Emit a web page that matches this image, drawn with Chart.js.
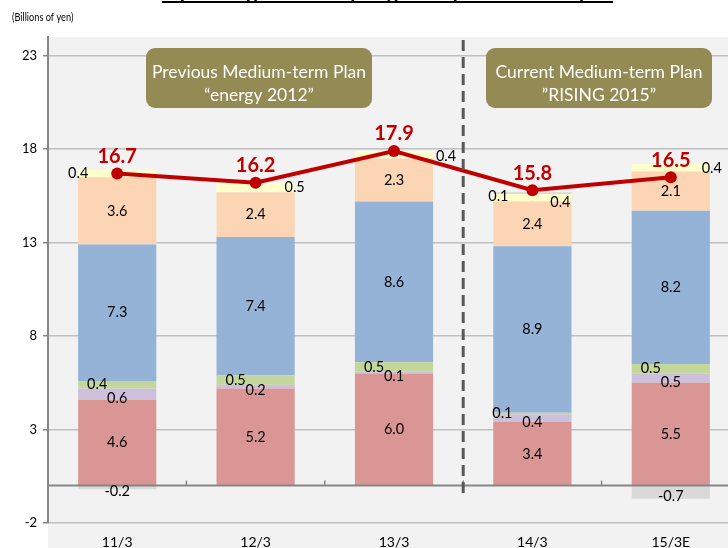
<!DOCTYPE html>
<html>
<head>
<meta charset="utf-8">
<script src="https://cdn.jsdelivr.net/npm/chart.js@4"></script>
<style>
html,body{margin:0;padding:0;background:#fff;overflow:hidden;width:728px;height:548px;}
#wrap{position:absolute;left:0;top:0;width:760px;height:548px;}
</style>
</head>
<body>
<div id="wrap"><canvas id="c" width="760" height="548"></canvas></div>
<script>
// ---- data ----
const categories = ['11/3', '12/3', '13/3', '14/3', '15/3E'];
const segRed      = [4.6, 5.2, 6.0, 3.4, 5.5];
const segLavender = [0.6, 0.2, 0.1, 0.4, 0.5];
const segGreen    = [0.4, 0.5, 0.5, 0.1, 0.5];
const segBlue     = [7.3, 7.4, 8.6, 8.9, 8.2];
const segPeach    = [3.6, 2.4, 2.3, 2.4, 2.1];
const segYellow   = [0.4, 0.5, 0.4, 0.4, 0.4];
const segAdjust   = [-0.2, 0, 0, 0.1, -0.7];
const totals      = [16.7, 16.2, 17.9, 15.8, 16.5];
const yTickValues = [-2, 3, 8, 13, 18, 23];
const titleText = 'Operating Income by Segment (Consolidated)';
const unitText = '(Billions of yen)';
const plan1 = ['Previous Medium-term Plan', '\u201Cenergy 2012\u201D'];
const plan2 = ['Current Medium-term Plan', '\u201DRISING 2015\u201D'];

const FONT = 'Lato, "Open Sans", sans-serif';

// label placement (style only)
const yellowDx = [-39, 39, 52, 28, 41];
const yellowDy = [0, 0, 2, 5, 0];

const decor = {
  id: 'decor',
  beforeDraw(chart) {
    const ctx = chart.ctx, a = chart.chartArea;
    ctx.save();
    ctx.fillStyle = '#f2f2f2';
    ctx.fillRect(a.left, a.top, chart.width - a.left, chart.height - a.top);
    ctx.restore();
  },
  afterDatasetsDraw(chart) {
    const ctx = chart.ctx, a = chart.chartArea;
    const xs = chart.scales.x, ys = chart.scales.y;
    ctx.save();
    // zero axis line
    const y0 = ys.getPixelForValue(0);
    ctx.strokeStyle = '#868686';
    ctx.lineWidth = 2;
    ctx.beginPath(); ctx.moveTo(a.left, y0); ctx.lineTo(a.right, y0); ctx.stroke();
    // category tick marks on zero line
    ctx.lineWidth = 1.5;
    for (let i = 1; i < categories.length; i++) {
      const x = (xs.getPixelForValue(i - 1) + xs.getPixelForValue(i)) / 2;
      ctx.beginPath(); ctx.moveTo(x, y0); ctx.lineTo(x, y0 - 5); ctx.stroke();
    }
    // dashed separator
    const xd = (xs.getPixelForValue(2) + xs.getPixelForValue(3)) / 2;
    ctx.strokeStyle = '#595959';
    ctx.lineWidth = 3;
    ctx.setLineDash([11, 6]);
    ctx.beginPath(); ctx.moveTo(xd, a.top + 3); ctx.lineTo(xd, y0 + 13); ctx.stroke();
    ctx.setLineDash([]);

    // segment labels
    ctx.fillStyle = '#000';
    ctx.font = '14.5px ' + FONT;
    ctx.textAlign = 'center';
    ctx.textBaseline = 'middle';
    const fmt = v => v.toFixed(1);
    chart.data.datasets.forEach((ds, di) => {
      if (ds.type === 'line') return;
      const meta = chart.getDatasetMeta(di);
      meta.data.forEach((bar, i) => {
        const v = ds.data[i];
        if (!v) return;
        const cx = bar.x, cy = (bar.y + bar.base) / 2;
        const key = ds.key;
        let x = cx, y = cy;
        if (key === 'green') { x = cx - 20; y = cy; if (i === 3) x = cx - 30; }
        else if (key === 'lavender') { y = cy + 4; }
        else if (key === 'yellow') { x = cx + yellowDx[i]; y = cy + yellowDy[i]; }
        else if (key === 'adjust') {
          if (v < 0) { y = cy + 4; }
          else { x = cx - 34; y = cy + 3; }
        }
        ctx.fillText(fmt(v), x, y);
      });
    });
    ctx.restore();
  },
  afterDraw(chart) {
    const ctx = chart.ctx;
    ctx.save();
    // totals labels
    const meta = chart.getDatasetMeta(chart.data.datasets.length - 1);
    ctx.fillStyle = '#c00000';
    ctx.font = 'bold 20px ' + FONT;
    ctx.textAlign = 'center';
    ctx.textBaseline = 'middle';
    meta.data.forEach((p, i) => ctx.fillText(totals[i].toFixed(1), p.x, p.y - 17));

    // plan boxes
    const box = (x, y, w, h, lines) => {
      ctx.fillStyle = '#948a54';
      ctx.beginPath();
      ctx.roundRect(x, y, w, h, 9);
      ctx.fill();
      ctx.fillStyle = '#ffffff';
      ctx.font = '17.5px ' + FONT;
      ctx.textAlign = 'center';
      ctx.textBaseline = 'middle';
      ctx.fillText(lines[0], x + w / 2, y + 24);
      ctx.fillText(lines[1], x + w / 2, y + 47);
    };
    box(146, 48, 226, 60, plan1);
    box(486, 48, 226, 60, plan2);

    // unit label (condensed)
    ctx.save();
    ctx.translate(12, 17);
    ctx.scale(0.8, 1);
    ctx.fillStyle = '#000';
    ctx.font = '11.5px ' + FONT;
    ctx.textAlign = 'left';
    ctx.textBaseline = 'middle';
    ctx.fillText(unitText, 0, 0);
    ctx.restore();

    // clipped title
    ctx.fillStyle = '#000';
    ctx.font = 'bold 21px ' + FONT;
    ctx.textAlign = 'left';
    ctx.textBaseline = 'alphabetic';
    ctx.fillText(titleText, 163, -1);
    ctx.strokeStyle = '#000';
    ctx.lineWidth = 2;
    ctx.beginPath(); ctx.moveTo(162, 2); ctx.lineTo(613, 2); ctx.stroke();
    ctx.restore();
  }
};

const barDs = (key, data, color) => ({
  key, type: 'bar', data, backgroundColor: color, borderWidth: 0,
  stack: 's', order: 2, barPercentage: 0.565, categoryPercentage: 1
});

new Chart(document.getElementById('c'), {
  data: {
    labels: categories,
    datasets: [
      barDs('red', segRed, '#da9694'),
      barDs('lavender', segLavender, '#ccc0da'),
      barDs('green', segGreen, '#c4d79b'),
      barDs('blue', segBlue, '#95b3d7'),
      barDs('peach', segPeach, '#fcd5b4'),
      barDs('yellow', segYellow, '#ffffcc'),
      barDs('adjust', segAdjust, '#d9d9d9'),
      {
        key: 'total', type: 'line', data: totals, order: 1,
        borderColor: '#c00000', backgroundColor: '#c00000', borderWidth: 4,
        pointRadius: 6, pointHoverRadius: 6, pointBackgroundColor: '#c00000',
        pointBorderWidth: 0, tension: 0
      }
    ]
  },
  options: {
    responsive: false,
    animation: false,
    events: [],
    layout: { padding: { top: 37, right: 20, left: 0, bottom: 0 } },
    plugins: { legend: { display: false }, tooltip: { enabled: false }, title: { display: false } },
    scales: {
      x: {
        stacked: true,
        grid: { display: false, drawTicks: false },
        border: { display: false },
        ticks: { color: '#000', font: { family: FONT, size: 14 }, padding: 11 },
        afterFit(s) { s.height = 25; }
      },
      y: {
        stacked: true,
        min: -2, max: 24,
        afterBuildTicks(s) { s.ticks = yTickValues.map(v => ({ value: v })); },
        grid: { color: '#c0c0c0', lineWidth: 1.5, tickLength: 5, tickColor: '#868686' },
        border: { display: true, color: '#868686', width: 2 },
        ticks: { color: '#000', font: { family: FONT, size: 13 }, padding: 6 },
        afterFit(s) { s.width = 48; }
      }
    }
  },
  plugins: [decor]
});
</script>
</body>
</html>
